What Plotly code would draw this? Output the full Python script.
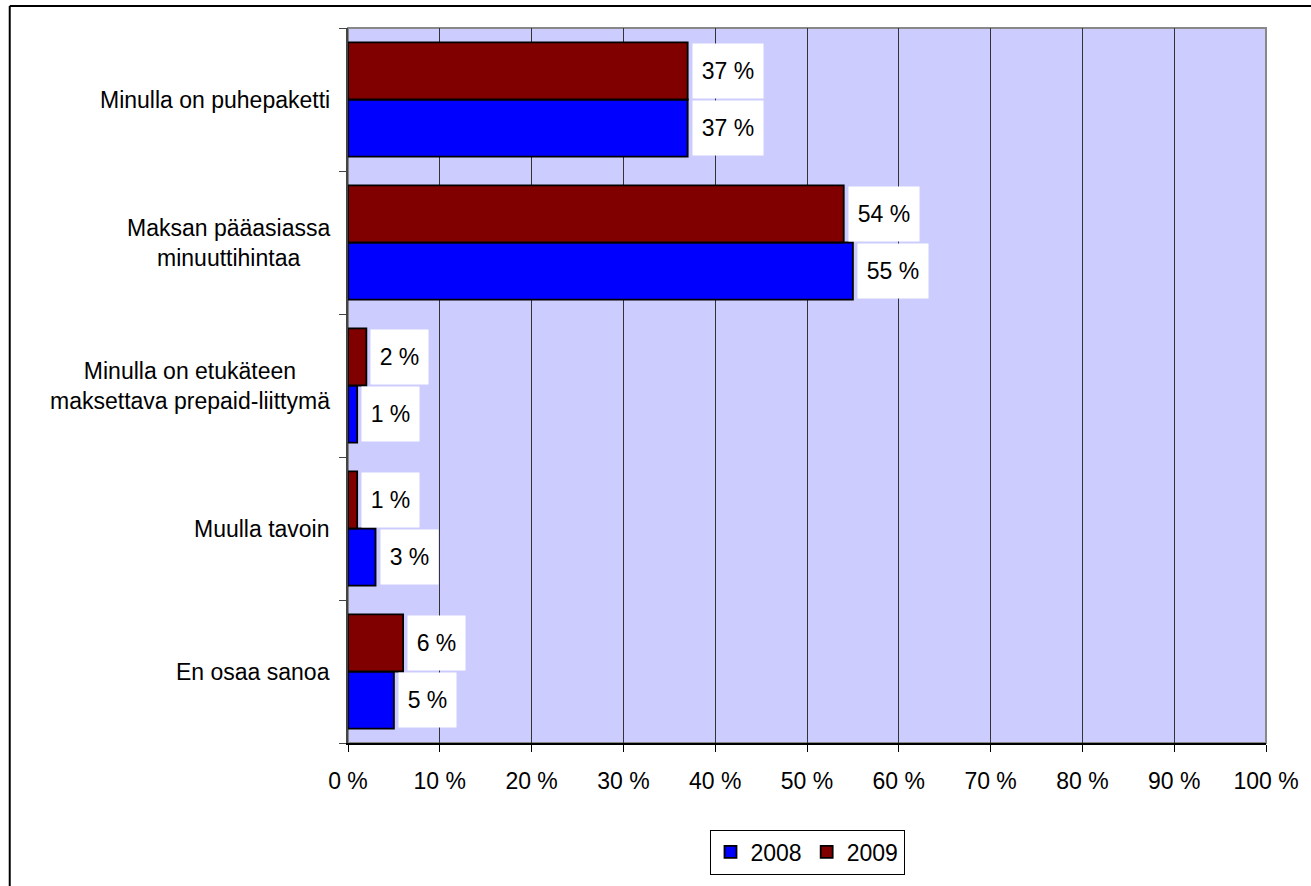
import plotly.graph_objects as go

categories = [
    "Minulla on puhepaketti",
    "Maksan pääasiassa<br>minuuttihintaa",
    "Minulla on etukäteen<br>maksettava prepaid-liittymä",
    "Muulla tavoin",
    "En osaa sanoa",
]
values_2008 = [37, 55, 1, 3, 5]
values_2009 = [37, 54, 2, 1, 6]
series_names = ["2008", "2009"]
series_colors = ["#0000FF", "#800000"]
x_ticks = [0, 10, 20, 30, 40, 50, 60, 70, 80, 90, 100]

FONT = "Liberation Sans, Arial, sans-serif"
FS = 23
W, H = 1311, 886
L, R, T, B = 348, 43, 28, 141

cat_order = categories[::-1]  # bottom to top

fig = go.Figure()
for name, vals, col in zip(series_names, [values_2008, values_2009], series_colors):
    fig.add_trace(go.Bar(
        y=categories, x=vals, name=name, orientation="h",
        marker=dict(color=col, line=dict(color="black", width=1.8)),
        hoverinfo="x+y",
    ))

annotations = []
plot_h = H - T - B
bar_px = plot_h / len(categories) * 0.8 / 2
for vals, sign in [(values_2008, -1), (values_2009, 1)]:
    for cat, v in zip(categories, vals):
        nd = len(str(v))
        annotations.append(dict(
            x=v, y=cat, xref="x", yref="y", text=f"{v} %",
            showarrow=False, xanchor="left", yanchor="middle",
            xshift=4, yshift=sign * bar_px / 2,
            bgcolor="white", width=42 + 13 * nd, height=52,
            font=dict(family=FONT, size=FS, color="black"),
        ))
for cat in categories:
    annotations.append(dict(
        x=0, y=cat, xref="paper", yref="y", text=cat,
        showarrow=False, xanchor="right", yanchor="middle",
        xshift=-16, align="center",
        font=dict(family=FONT, size=FS, color="black"),
    ))

fig.update_layout(
    width=W, height=H,
    margin=dict(l=L, r=R, t=T, b=B, pad=0),
    paper_bgcolor="white", plot_bgcolor="#CCCCFF",
    barmode="group", bargap=0.2, bargroupgap=0,
    font=dict(family=FONT, size=FS, color="black"),
    showlegend=True,
    legend=dict(
        orientation="h", x=0.5, xanchor="center", y=-0.121, yanchor="top",
        bordercolor="black", borderwidth=1, bgcolor="white",
        font=dict(family=FONT, size=FS, color="black"),
        traceorder="normal",
    ),
    xaxis=dict(
        range=[0, 100], tickvals=x_ticks, ticktext=[f"{t} %" for t in x_ticks],
        showgrid=True, gridcolor="#333333", gridwidth=1,
        ticks="outside", ticklen=7, tickcolor="black", tickwidth=1,
        showline=True, linecolor="black", linewidth=1.5,
        zeroline=False, ticklabelstandoff=10,
        tickfont=dict(family=FONT, size=FS, color="black"),
        fixedrange=True,
    ),
    yaxis=dict(
        categoryorder="array", categoryarray=cat_order,
        showticklabels=False, ticks="outside", ticklen=7, tickson="boundaries",
        tickcolor="#444444", tickwidth=1,
        showline=True, linecolor="#444444", linewidth=1.5,
        showgrid=False, zeroline=False, fixedrange=True,
    ),
    annotations=annotations,
    shapes=[
        dict(type="rect", xref="paper", yref="paper", x0=0, x1=1, y0=0, y1=1,
             line=dict(color="#888888", width=2), layer="below"),
        dict(type="line", xref="paper", yref="paper",
             x0=(9 - L) / (W - L - R), x1=(1320 - L) / (W - L - R),
             y0=1 + (T - 6) / plot_h, y1=1 + (T - 6) / plot_h,
             line=dict(color="black", width=2)),
        dict(type="line", xref="paper", yref="paper",
             x0=(9 - L) / (W - L - R), x1=(9 - L) / (W - L - R),
             y0=1 + (T - 6) / plot_h, y1=-(H + 10 - T - plot_h) / plot_h,
             line=dict(color="black", width=2)),
    ],
)

fig.write_html(
    "out.html",
    config={"displayModeBar": False},
    post_script="document.body.style.margin='0';document.body.style.overflow='hidden';",
)
